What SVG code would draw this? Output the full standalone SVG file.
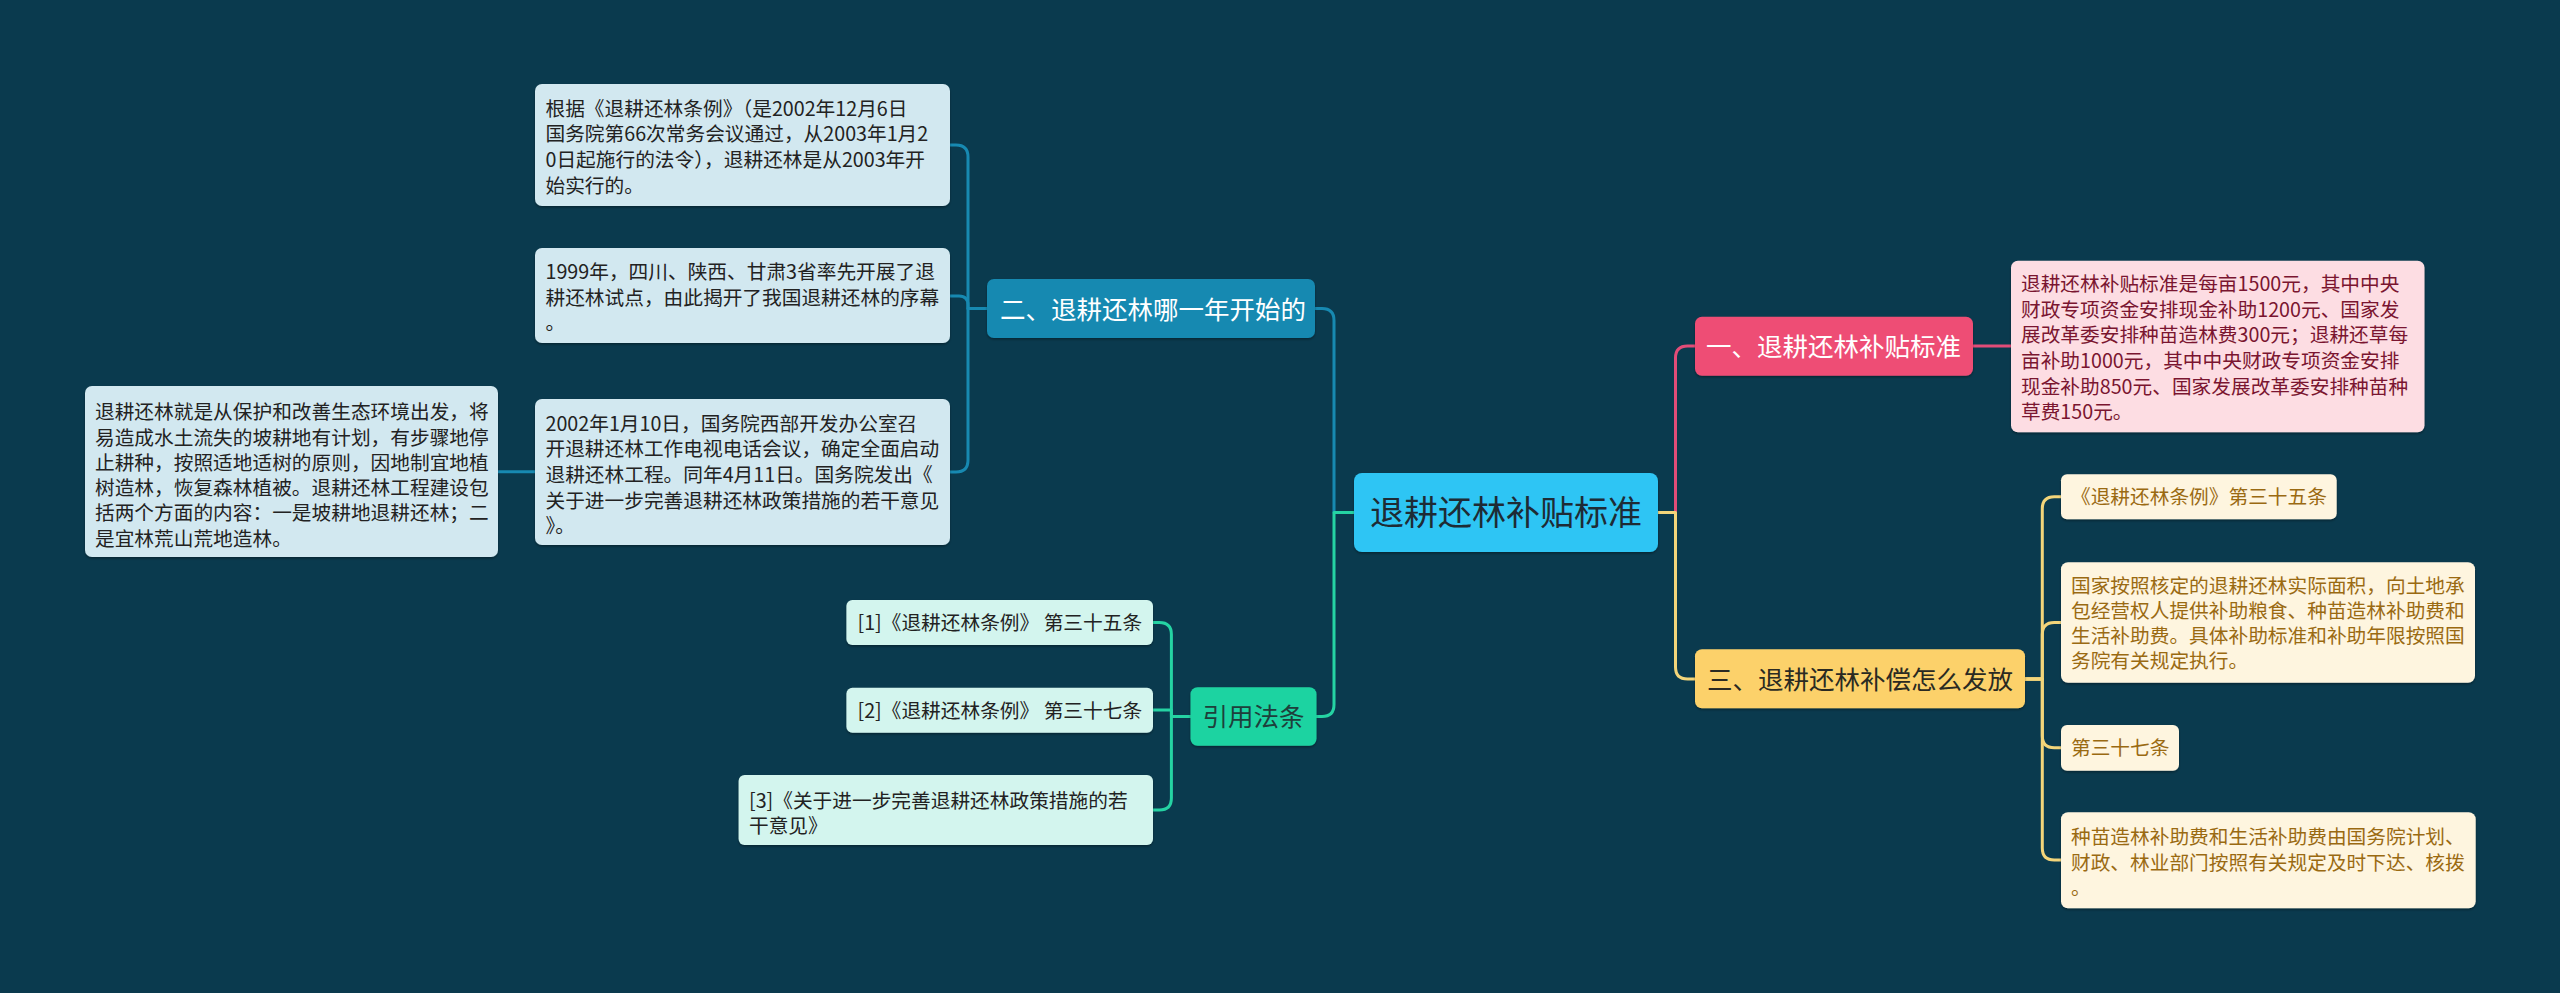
<svg xmlns="http://www.w3.org/2000/svg" width="2560" height="993" viewBox="0 0 2560 993">
<defs>
<filter id="sh" x="-5%" y="-10%" width="110%" height="130%">
<feDropShadow dx="0" dy="1.5" stdDeviation="1" flood-color="#000" flood-opacity="0.35"/>
</filter>
<style>
text{font-family:"Noto Sans CJK SC","Microsoft YaHei",sans-serif;}
.leaf{font-size:19.7px;}
.br{font-size:25.5px;}
.c{fill:none;stroke-width:3;stroke-linejoin:round;}
.blue{stroke:#1789B1;}
.teal{stroke:#25D3A3;}
.red{stroke:#E24C78;}
.yel{stroke:#F3D57A;}
.bl-box{fill:#D2E8F0;filter:url(#sh);}
.bl-t{fill:#222;}
.tl-box{fill:#D3F5EE;filter:url(#sh);}
.pk-box{fill:#FDDDE3;filter:url(#sh);}
.pk-t{fill:#7A1530;}
.yl-box{fill:#FEF5DF;filter:url(#sh);}
.yl-t{fill:#9A6A12;}
</style>
</defs>
<rect width="2560" height="993" fill="#0A3A4E"/>

<g id="connectors">
<path class="c blue" d="M1354,512.5 H1334 V320.5 Q1334,308.5 1322,308.5 H1315"/>
<path class="c teal" d="M1354,512.5 H1334 V704.5 Q1334,716.5 1322,716.5 H1316"/>
<path class="c red" d="M1658,512.5 H1675.5 V358 Q1675.5,346 1687.5,346 H1695"/>
<path class="c yel" d="M1658,512.5 H1675.5 V667 Q1675.5,679 1687.5,679 H1695"/>
<path class="c blue" d="M987,308.5 H968 V157 Q968,145 956,145 H950"/>
<path class="c blue" d="M987,308.5 H968 V305 Q968,296 959,296 H950"/>
<path class="c blue" d="M987,308.5 H968 V460 Q968,472 956,472 H950"/>
<path class="c blue" d="M535,471.7 H498"/>
<path class="c teal" d="M1190.5,716.5 H1171.4 V634.5 Q1171.4,622.5 1159.4,622.5 H1153"/>
<path class="c teal" d="M1190.5,716.5 H1171.4 V710 H1153"/>
<path class="c teal" d="M1190.5,716.5 H1171.4 V798 Q1171.4,810 1159.4,810 H1153"/>
<path class="c red" d="M1973,346 H2011"/>
<path class="c yel" d="M2025,679 H2042.3 V508.7 Q2042.3,496.7 2054.3,496.7 H2061"/>
<path class="c yel" d="M2025,679 H2042.3 V634.5 Q2042.3,622.5 2054.3,622.5 H2061"/>
<path class="c yel" d="M2025,679 H2042.3 V735.8 Q2042.3,747.8 2054.3,747.8 H2061"/>
<path class="c yel" d="M2025,679 H2042.3 V848 Q2042.3,860 2054.3,860 H2061"/>
</g>

<g id="center">
<rect x="1354" y="473" width="304" height="79" rx="8" fill="#2EC5F4" filter="url(#sh)"/>
<text x="1506" y="525" font-size="34" text-anchor="middle" fill="#1E2B35">退耕还林补贴标准</text>
</g>

<g id="b2">
<rect x="987" y="279" width="328" height="59" rx="7" fill="#1789B1" filter="url(#sh)"/>
<text class="br" x="1000" y="318.5" fill="#fff">二、退耕还林哪一年开始的</text>
</g>
<g id="a1">
<rect class="bl-box" x="535" y="84" width="415" height="122" rx="7"/>
<text class="leaf bl-t" x="545.5" y="115.8">根据《退耕还林条例》（是2002年12月6日</text>
<text class="leaf bl-t" x="545.5" y="141.4">国务院第66次常务会议通过，从2003年1月2</text>
<text class="leaf bl-t" x="545.5" y="167">0日起施行的法令），退耕还林是从2003年开</text>
<text class="leaf bl-t" x="545.5" y="192.6">始实行的。</text>
</g>
<g id="a2">
<rect class="bl-box" x="535" y="248" width="415" height="95" rx="7"/>
<text class="leaf bl-t" x="545.5" y="279">1999年，四川、陕西、甘肃3省率先开展了退</text>
<text class="leaf bl-t" x="545.5" y="304.6">耕还林试点，由此揭开了我国退耕还林的序幕</text>
<text class="leaf bl-t" x="545.5" y="330.2">。</text>
</g>
<g id="a3">
<rect class="bl-box" x="535" y="399" width="415" height="146" rx="7"/>
<text class="leaf bl-t" x="545.5" y="430.8">2002年1月10日，国务院西部开发办公室召</text>
<text class="leaf bl-t" x="545.5" y="456.4">开退耕还林工作电视电话会议，确定全面启动</text>
<text class="leaf bl-t" x="545.5" y="482">退耕还林工程。同年4月11日。国务院发出《</text>
<text class="leaf bl-t" x="545.5" y="507.6">关于进一步完善退耕还林政策措施的若干意见</text>
<text class="leaf bl-t" x="545.5" y="533.2">》。</text>
</g>
<g id="l1">
<rect class="bl-box" x="85" y="386" width="413" height="171" rx="7"/>
<text class="leaf bl-t" x="95" y="419.2">退耕还林就是从保护和改善生态环境出发，将</text>
<text class="leaf bl-t" x="95" y="444.5">易造成水土流失的坡耕地有计划，有步骤地停</text>
<text class="leaf bl-t" x="95" y="469.8">止耕种，按照适地适树的原则，因地制宜地植</text>
<text class="leaf bl-t" x="95" y="495.1">树造林，恢复森林植被。退耕还林工程建设包</text>
<text class="leaf bl-t" x="95" y="520.4">括两个方面的内容：一是坡耕地退耕还林；二</text>
<text class="leaf bl-t" x="95" y="545.7">是宜林荒山荒地造林。</text>
</g>

<g id="b4">
<rect x="1190.5" y="687.3" width="126" height="58.4" rx="7" fill="#1FD3A1" filter="url(#sh)"/>
<text class="br" x="1253.5" y="726" text-anchor="middle" fill="#1E3F3B">引用法条</text>
</g>
<g id="r1">
<rect class="tl-box" x="846.4" y="600" width="306.6" height="45" rx="6"/>
<text class="leaf bl-t" x="857.5" y="630">[1]《退耕还林条例》 第三十五条</text>
</g>
<g id="r2">
<rect class="tl-box" x="846.4" y="687.7" width="306.6" height="45" rx="6"/>
<text class="leaf bl-t" x="857.5" y="717.7">[2]《退耕还林条例》 第三十七条</text>
</g>
<g id="r3">
<rect class="tl-box" x="738.6" y="775" width="414.4" height="70" rx="6"/>
<text class="leaf bl-t" x="749" y="807.5">[3]《关于进一步完善退耕还林政策措施的若</text>
<text class="leaf bl-t" x="749" y="832.5">干意见》</text>
</g>

<g id="b1">
<rect x="1695" y="316.7" width="278" height="59" rx="7" fill="#EE4D74" filter="url(#sh)"/>
<text class="br" x="1706" y="355.7" fill="#fff">一、退耕还林补贴标准</text>
</g>
<g id="p1">
<rect class="pk-box" x="2011" y="260.7" width="413.5" height="171.6" rx="7"/>
<text class="leaf pk-t" x="2021" y="290.8">退耕还林补贴标准是每亩1500元，其中中央</text>
<text class="leaf pk-t" x="2021" y="316.5">财政专项资金安排现金补助1200元、国家发</text>
<text class="leaf pk-t" x="2021" y="342.2">展改革委安排种苗造林费300元；退耕还草每</text>
<text class="leaf pk-t" x="2021" y="367.9">亩补助1000元，其中中央财政专项资金安排</text>
<text class="leaf pk-t" x="2021" y="393.6">现金补助850元、国家发展改革委安排种苗种</text>
<text class="leaf pk-t" x="2021" y="419.3">草费150元。</text>
</g>

<g id="b3">
<rect x="1695" y="649.3" width="330" height="59" rx="7" fill="#FCD16B" filter="url(#sh)"/>
<text class="br" x="1707" y="688.5" fill="#2A2A22">三、退耕还林补偿怎么发放</text>
</g>
<g id="y1">
<rect class="yl-box" x="2061" y="474.3" width="275.7" height="45" rx="6"/>
<text class="leaf yl-t" x="2071" y="504.3">《退耕还林条例》第三十五条</text>
</g>
<g id="y2">
<rect class="yl-box" x="2061" y="562.3" width="414" height="120.4" rx="7"/>
<text class="leaf yl-t" x="2071" y="592.5">国家按照核定的退耕还林实际面积，向土地承</text>
<text class="leaf yl-t" x="2071" y="617.5">包经营权人提供补助粮食、种苗造林补助费和</text>
<text class="leaf yl-t" x="2071" y="642.5">生活补助费。具体补助标准和补助年限按照国</text>
<text class="leaf yl-t" x="2071" y="667.5">务院有关规定执行。</text>
</g>
<g id="y3">
<rect class="yl-box" x="2061" y="725" width="118" height="45.7" rx="6"/>
<text class="leaf yl-t" x="2071" y="755">第三十七条</text>
</g>
<g id="y4">
<rect class="yl-box" x="2061" y="812.3" width="414.7" height="96" rx="7"/>
<text class="leaf yl-t" x="2071" y="844.2">种苗造林补助费和生活补助费由国务院计划、</text>
<text class="leaf yl-t" x="2071" y="869.8">财政、林业部门按照有关规定及时下达、核拨</text>
<text class="leaf yl-t" x="2071" y="895.4">。</text>
</g>
</svg>
